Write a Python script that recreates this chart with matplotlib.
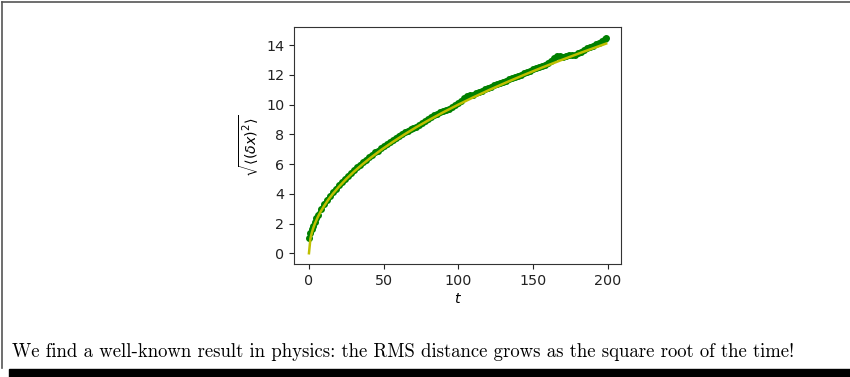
import matplotlib
matplotlib.use('Agg')
import matplotlib.pyplot as plt
from matplotlib.lines import Line2D
from matplotlib.patches import Rectangle

t_data = [0, 1, 2, 3, 4, 5, 6, 8, 10, 12, 14, 16, 18, 20, 22, 24, 26, 28, 30,
          32, 34, 36, 38, 40, 42, 44, 46, 48, 50, 52, 54, 56, 58, 60, 62, 64,
          66, 68, 70, 72, 74, 76, 78, 80, 82, 84, 86, 88, 90, 92, 94, 96, 98,
          100, 102, 104, 106, 108, 110, 112, 114, 116, 118, 120, 122, 124, 126,
          128, 130, 132, 134, 136, 138, 140, 142, 144, 146, 148, 150, 152, 154,
          156, 158, 160, 162, 164, 166, 168, 170, 172, 174, 176, 178, 180, 182,
          184, 186, 188, 190, 192, 194, 196, 198, 199]
rms = [1.0, 1.35, 1.6, 1.85, 2.1, 2.35, 2.6, 2.95, 3.3, 3.6, 3.85, 4.1, 4.35,
       4.6, 4.8, 5.0, 5.2, 5.4, 5.6, 5.8, 5.95, 6.15, 6.3, 6.45, 6.62, 6.78,
       6.9, 7.05, 7.2, 7.33, 7.48, 7.6, 7.75, 7.92, 8.05, 8.15, 8.25, 8.35,
       8.42, 8.5, 8.6, 8.75, 8.9, 9.02, 9.15, 9.28, 9.4, 9.5, 9.58, 9.65,
       9.72, 9.82, 9.95, 10.1, 10.25, 10.45, 10.55, 10.62, 10.68, 10.78, 10.88,
       10.95, 11.05, 11.12, 11.22, 11.3, 11.38, 11.45, 11.55, 11.62, 11.7,
       11.78, 11.88, 11.95, 12.02, 12.1, 12.2, 12.28, 12.38, 12.45, 12.55,
       12.62, 12.7, 12.82, 12.95, 13.15, 13.3, 13.28, 13.2, 13.3, 13.35, 13.33,
       13.35, 13.45, 13.55, 13.7, 13.8, 13.88, 13.95, 14.05, 14.15, 14.25,
       14.4, 14.5]

# Square-root reference curve (yellow line)
t_ref = [0, 1, 2, 3, 4, 6, 8, 10, 13, 16, 20, 25, 30, 36, 42, 49, 56, 64, 72,
         81, 90, 100, 110, 121, 132, 144, 156, 169, 182, 196, 199]
sqrt_ref = [0, 1, 1.41, 1.73, 2, 2.45, 2.83, 3.16, 3.61, 4, 4.47, 5, 5.48, 6,
            6.48, 7, 7.48, 8, 8.49, 9, 9.49, 10, 10.49, 11, 11.49, 12, 12.49,
            13, 13.49, 14, 14.11]

xticks = [0, 50, 100, 150, 200]
yticks = [0, 2, 4, 6, 8, 10, 12, 14]

caption = ("We find a well-known result in physics: the RMS distance grows "
           "as the square root of the time!")

fig = plt.figure(figsize=(8.5, 3.77), dpi=100)
ax = fig.add_axes([0.346, 0.2997, 0.3846, 0.6287])

# green band: dots plus a thin line so it reads as one thick trace
ax.plot(t_data, rms, 'g.-', markersize=8, linewidth=2.5)
ax.plot(t_ref, sqrt_ref, 'y', linewidth=1.8)

ax.set_xticks(xticks)
ax.set_yticks(yticks)
ax.tick_params(labelsize=10.3, colors='#222222')
for s in ax.spines.values():
    s.set_color('#333333')
ax.set_xlabel('$t$', fontsize=10.3, labelpad=3)
ax.set_ylabel(r'$\sqrt{\langle(\delta x)^2\rangle}$', fontsize=10.3)

# page frame around the figure
frame = '#555555'
fig.add_artist(Line2D([1.5 / 850, 1.5 / 850], [1 - 1.5 / 377, 1 - 368 / 377],
                      color=frame, lw=1.2, transform=fig.transFigure))
fig.add_artist(Line2D([1.5 / 850, 1.0], [1 - 1.5 / 377, 1 - 1.5 / 377],
                      color=frame, lw=1.2, transform=fig.transFigure))
fig.add_artist(Rectangle((9 / 850, 0), 1 - 9 / 850, 8 / 377, color='black',
                         transform=fig.transFigure))

fig.text(12 / 850, 1 - 357 / 377, caption, fontsize=13.5, family='cmr10',
         va='baseline', ha='left')

fig.savefig('out.png', dpi=100)
